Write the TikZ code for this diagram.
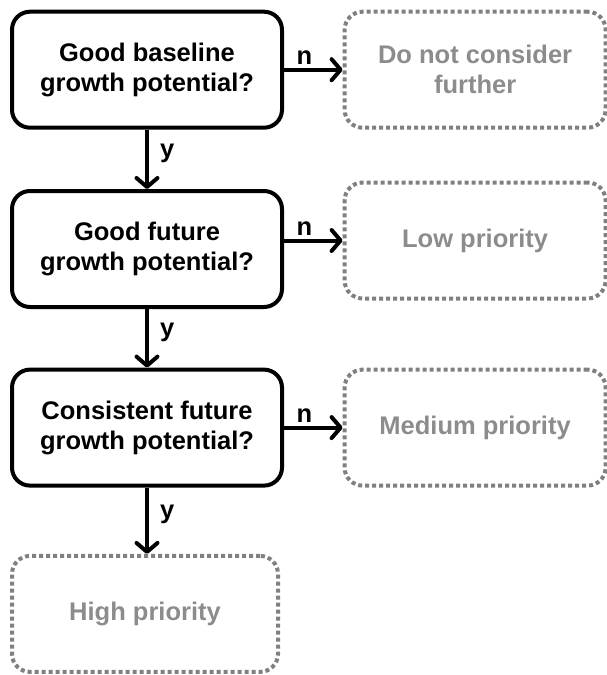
\documentclass[tikz,border=0pt]{standalone}
\usepackage{fontspec}
\setmainfont{Liberation Sans}
\usetikzlibrary{positioning,arrows.meta}
\definecolor{dimgray}{RGB}{128,128,128}
\definecolor{dimtext}{RGB}{140,140,140}
\begin{document}
\begin{tikzpicture}[x=1pt,y=1pt,
  font=\fontsize{25.5}{30}\selectfont\bfseries,
  qbox/.style={draw,line width=4pt,rounded corners=18pt,align=center,
    minimum width=270pt,minimum height=116pt,inner sep=0pt},
  endbox/.style={draw=dimgray,text=dimtext,line width=4pt,dash pattern=on 4pt off 3pt,
    rounded corners=18pt,align=center,minimum width=261pt,minimum height=116pt,inner sep=0pt},
  yes/.style={-{Straight Barb[length=9pt,width=21pt,round]},line width=4pt},
  lbl/.style={inner sep=3pt}]
\useasboundingbox (0,0) rectangle (607,-675);
\node[qbox] (q1) at (147,-69.7) {Good baseline\\growth potential?};
\node[qbox,below=59.3pt of q1] (q2) {Good future\\growth potential?};
\node[qbox,below=58.6pt of q2] (q3) {Consistent future\\growth potential?};
\node[endbox,minimum width=266pt,below=66.3pt of q3,xshift=-2pt] (high) {High priority};
\node[endbox,right=58.6pt of q1] (drop) {Do not consider\\further};
\node[endbox,right=58.6pt of q2,yshift=8.5pt] (low) {Low priority};
\node[endbox,right=58.6pt of q3] (medium) {Medium priority};
\draw[yes] (q1) -- (q2) node[lbl,pos=0.4,right,xshift=8pt] {y};
\draw[yes] (q2) -- (q3) node[lbl,pos=0.4,right,xshift=8pt] {y};
\draw[yes] (q3) -- (q3 |- high.north) node[lbl,pos=0.4,right,xshift=8pt] {y};
\draw[yes] (q1) -- (drop) node[lbl,pos=0.35,above] {n};
\draw[yes] (low.west -| q2.east) -- (low) node[lbl,pos=0.35,above] {n};
\draw[yes] (q3) -- (medium) node[lbl,pos=0.35,above] {n};
\end{tikzpicture}
\end{document}
